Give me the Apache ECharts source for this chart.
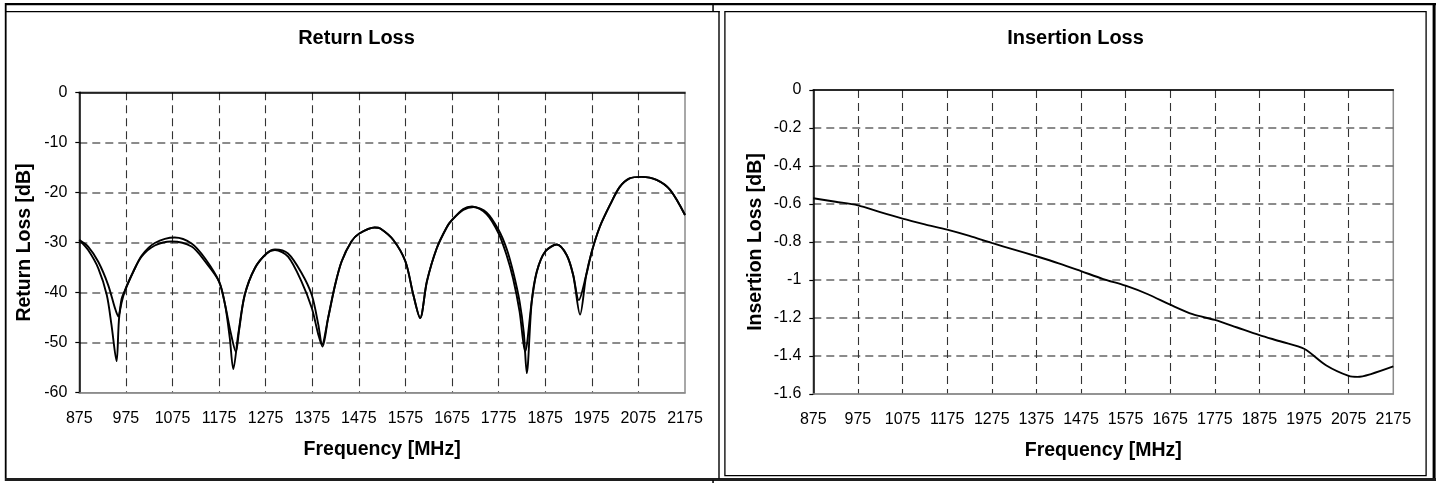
<!DOCTYPE html>
<html>
<head>
<meta charset="utf-8">
<script src="https://cdn.jsdelivr.net/npm/echarts@6.0.0/dist/echarts.min.js"></script>
<style>
html,body{margin:0;padding:0;background:#fff;}
#c{width:1437px;height:483px;}
</style>
</head>
<body>
<div id="c"></div>
<script>
// ---- data (frequency MHz, value dB) ----
const rlTitle = 'Return Loss';
const ilTitle = 'Insertion Loss';
const xName = 'Frequency [MHz]';
const rlYName = 'Return Loss [dB]';
const ilYName = 'Insertion Loss [dB]';

const freqMin = 875, freqMax = 2175, freqStep = 100;
const rlMin = -60, rlMax = 0, rlStep = 10;
const ilMin = -1.6, ilMax = 0, ilStep = 0.2;

const returnLossA = [
  [875,-29.5],[894,-31.5],[916,-35.2],[934,-40.5],[944,-46.4],[955,-53.7],[961,-44.5],[973,-39.6],
  [991,-35.8],[1009,-32.8],[1037,-30.6],[1073,-29.8],[1116,-30.8],[1145,-33.8],[1175,-37.8],
  [1188,-42.5],[1198,-49.1],[1205.5,-55.3],[1216,-48.4],[1230,-40.5],[1252,-35.1],[1277,-32.2],
  [1295,-31.5],[1323,-32.8],[1352,-37.8],[1374,-43.1],[1388,-48.4],[1397,-50.8],
  [1409,-45.1],[1424,-38.5],[1438,-33.8],[1459,-29.8],[1476,-28.2],[1509,-27.0],[1521,-27.2],
  [1549,-29.5],[1575,-33.8],[1592,-40.5],[1606.5,-45.1],[1621,-37.8],[1642,-31.2],[1664,-26.9],
  [1675,-25.5],[1699,-23.5],[1721,-22.9],[1749,-24.0],[1775,-27.5],[1792,-31.2],[1806,-35.8],
  [1820,-41.8],[1829,-48.0],[1835.4,-56.1],[1846,-41.8],[1857,-35.8],[1875,-31.8],[1900,-30.4],
  [1921,-32.5],[1935,-36.5],[1949.8,-44.4],[1963,-36.5],[1975,-31.8],[1992,-26.9],[2014,-22.5],
  [2035,-18.9],[2056,-17.2],[2082,-16.9],[2114,-17.5],[2143,-19.5],[2175,-24.5]
];

const returnLossB = [
  [875,-29.5],[894,-30.8],[916,-33.9],[937,-38.5],[951.5,-43.1],[958.7,-44.8],[966,-41.2],[973,-39.6],
  [991,-35.8],[1009,-32.6],[1037,-30.1],[1080,-29.0],[1116,-30.2],[1145,-33.2],[1175,-37.8],
  [1188,-42.5],[1200,-48.0],[1211,-51.8],[1218,-47.5],[1230,-40.5],[1252,-35.1],[1277,-32.2],
  [1295,-31.4],[1323,-32.2],[1352,-36.1],[1374,-40.5],[1388,-46.4],[1396,-50.4],
  [1409,-45.1],[1424,-38.5],[1438,-33.8],[1459,-29.8],[1476,-28.2],[1509,-27.0],[1521,-27.2],
  [1549,-29.5],[1575,-33.8],[1592,-40.5],[1606.5,-45.1],[1621,-37.8],[1642,-31.2],[1664,-26.9],
  [1675,-25.5],[1699,-23.3],[1718,-22.8],[1749,-24.3],[1775,-28.2],[1792,-32.5],[1806,-37.2],
  [1820,-43.8],[1831.8,-51.8],[1846,-41.8],[1857,-35.8],[1875,-31.8],[1900,-30.4],
  [1921,-32.5],[1935,-36.5],[1947,-41.5],[1963,-36.5],[1975,-31.8],[1992,-26.9],[2014,-22.5],
  [2035,-18.9],[2056,-17.2],[2082,-16.9],[2114,-17.5],[2143,-19.5],[2175,-24.5]
];

const insertionLoss = [
  [875,-0.570],[925,-0.588],[975,-0.607],[1025,-0.643],[1075,-0.677],[1125,-0.707],[1175,-0.735],
  [1225,-0.768],[1275,-0.805],[1325,-0.840],[1375,-0.875],[1425,-0.912],[1475,-0.953],[1525,-0.995],
  [1575,-1.030],[1625,-1.075],[1675,-1.130],[1725,-1.180],[1775,-1.210],[1825,-1.250],[1875,-1.290],
  [1925,-1.325],[1975,-1.362],[2025,-1.450],[2075,-1.505],[2095,-1.510],[2125,-1.495],[2175,-1.455]
];

// ---- chart ----
const FONT = "'Liberation Sans', Arial, Helvetica, sans-serif";
const chart = echarts.init(document.getElementById('c'), null, {renderer:'canvas'});

function xAxisBottom(gi, gap) {
  return {
    gridIndex: gi, type: 'value', position: 'bottom',
    min: freqMin, max: freqMax, interval: freqStep, startValue: freqMin,
    axisLine: {show: true, onZero: false, lineStyle: {color: '#8c8c8c', width: 1.5}},
    axisTick: {show: false},
    axisLabel: {color: '#000', fontSize: 16, fontFamily: FONT, margin: 18, hideOverlap: false,
      showMinLabel: true, showMaxLabel: true, formatter: v => String(Math.round(v))},
    splitLine: {show: true, showMinLine: false, showMaxLine: false,
      lineStyle: {type: [8, 5], color: '#333', width: 1.1}},
    name: xName, nameLocation: 'middle', nameGap: 46.5,
    nameTextStyle: {color: '#000', fontSize: 19.5, fontWeight: 'bold', fontFamily: FONT}
  };
}
function xAxisTop(gi) {
  return {
    gridIndex: gi, type: 'value', position: 'top',
    min: freqMin, max: freqMax, interval: freqStep, startValue: freqMin,
    axisLine: {show: true, onZero: false, lineStyle: {color: '#000', width: 1.5}},
    axisTick: {show: false}, axisLabel: {show: false}, splitLine: {show: false}
  };
}
function yAxisLeft(gi, mn, mx, step, name, gap, fmt) {
  return {
    gridIndex: gi, type: 'value', min: mn, max: mx, interval: step, startValue: mn,
    axisLine: {show: true, onZero: false, lineStyle: {color: '#000', width: 1.5}},
    axisTick: {show: true, inside: false, length: 4, lineStyle: {color: '#000', width: 1.2}},
    axisLabel: {color: '#000', fontSize: 16, fontFamily: FONT, margin: 12, formatter: fmt,
      showMinLabel: true, showMaxLabel: true},
    splitLine: {show: true, showMinLine: false, showMaxLine: false,
      lineStyle: {type: [8, 5], color: '#666', width: 1.5}},
    name: name, nameLocation: 'middle', nameGap: gap, nameRotate: 90,
    nameTextStyle: {color: '#000', fontSize: 19.5, fontWeight: 'bold', fontFamily: FONT}
  };
}

const lineStyle = {color: '#000', width: 1.9};

chart.setOption({
  animation: false,
  backgroundColor: '#fff',
  textStyle: {fontFamily: FONT},
  grid: [
    {left: 79.3, top: 92.3, width: 605.7, height: 300.4, show: true, borderColor: '#8c8c8c',
     borderWidth: 1.5, backgroundColor: 'transparent', containLabel: false, outerBoundsMode: 'none'},
    {left: 813.3, top: 90, width: 580, height: 304, show: true, borderColor: '#8c8c8c',
     borderWidth: 1.5, backgroundColor: 'transparent', containLabel: false, outerBoundsMode: 'none'}
  ],
  xAxis: [xAxisBottom(0), xAxisTop(0), xAxisBottom(1), xAxisTop(1)],
  yAxis: [
    yAxisLeft(0, rlMin, rlMax, rlStep, rlYName, 45, v => String(Math.round(v))),
    yAxisLeft(1, ilMin, ilMax, ilStep, ilYName, 48, v => String(Math.round(v * 10) / 10))
  ],
  series: [
    {type: 'line', name: 'S11 A', xAxisIndex: 0, yAxisIndex: 0, data: returnLossA,
     showSymbol: false, symbol: 'none', smooth: 0.3, lineStyle: lineStyle, z: 5},
    {type: 'line', name: 'S11 B', xAxisIndex: 0, yAxisIndex: 0, data: returnLossB,
     showSymbol: false, symbol: 'none', smooth: 0.3, lineStyle: lineStyle, z: 5},
    {type: 'line', name: 'S21', xAxisIndex: 2, yAxisIndex: 1, data: insertionLoss,
     showSymbol: false, symbol: 'none', smooth: 0.3, lineStyle: lineStyle, z: 5}
  ],
  graphic: [
    // outer frame
    {type: 'rect', shape: {x: 5, y: 3, width: 1431, height: 2.2}, style: {fill: '#000'}, silent: true},
    {type: 'rect', shape: {x: 4.8, y: 3, width: 1.8, height: 478}, style: {fill: '#000'}, silent: true},
    {type: 'rect', shape: {x: 1432.6, y: 3, width: 3, height: 478}, style: {fill: '#000'}, silent: true},
    {type: 'rect', shape: {x: 5, y: 478, width: 1431, height: 3}, style: {fill: '#1e1e1e'}, silent: true},
    {type: 'rect', shape: {x: 712.3, y: 4, width: 1.5, height: 7.5}, style: {fill: '#000'}, silent: true},
    {type: 'rect', shape: {x: 712.3, y: 480, width: 1.5, height: 3}, style: {fill: '#000'}, silent: true},
    // left panel
    {type: 'line', shape: {x1: 6, y1: 11.7, x2: 719.7, y2: 11.7}, style: {stroke: '#000', lineWidth: 1.3}, silent: true},
    {type: 'line', shape: {x1: 719, y1: 11, x2: 719, y2: 478.5}, style: {stroke: '#000', lineWidth: 1.4}, silent: true},
    // right panel
    {type: 'rect', shape: {x: 724.9, y: 11.7, width: 701.2, height: 464}, style: {fill: 'none', stroke: '#000', lineWidth: 1.3}, silent: true},
    // titles
    {type: 'text', x: 356.5, y: 38.5, style: {text: rlTitle, fill: '#000', font: "bold 20px " + FONT,
      textAlign: 'center', textVerticalAlign: 'middle'}, silent: true},
    {type: 'text', x: 1075.5, y: 38.5, style: {text: ilTitle, fill: '#000', font: "bold 20px " + FONT,
      textAlign: 'center', textVerticalAlign: 'middle'}, silent: true}
  ]
});
</script>
</body>
</html>
